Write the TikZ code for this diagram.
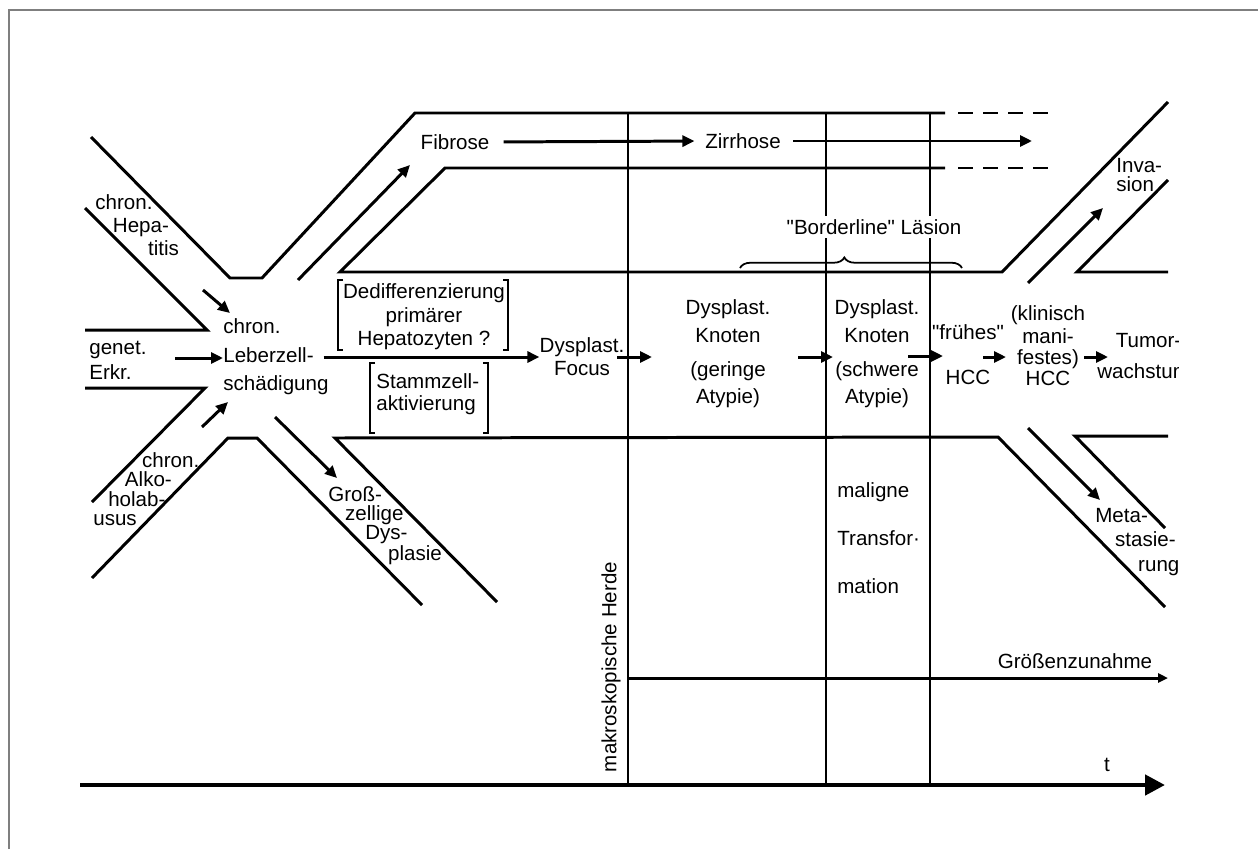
\documentclass[tikz,border=0pt]{standalone}
\usepackage{fontspec}
\setmainfont{Liberation Sans}
\usetikzlibrary{arrows.meta,positioning,decorations.pathreplacing}
\definecolor{rahmen}{HTML}{7F7F7F}

\begin{document}
\begin{tikzpicture}[x=0.02cm,y=-0.02cm,
  wand/.style={line width=1.7pt,line join=miter},
  gitter/.style={line width=1.2pt},
  klammer/.style={line width=1pt},
  pfeil/.style={line width=1.7pt,-{Triangle[length=2.4mm,width=2.2mm]}},
  zeile/.style={font=\fontsize{11.7}{#1}\selectfont,inner sep=0pt}]
\useasboundingbox (0,0) rectangle (1258,849);
\fill[white] (0,0) rectangle (1258,849);
\draw[rahmen,line width=1.2pt] (9,849) -- (9,10) -- (1258,10);

\draw[wand] (91,137) -- (230,278) -- (262,278) -- (415,113) -- (945,113);
\draw[wand,dash pattern=on 3mm off 2mm] (958,113) -- (1052,113);
\draw[wand] (85,208) -- (207,330) -- (85,330);
\draw[wand] (85,388) -- (205,388) -- (92,502);
\draw[wand] (92,578) -- (228,438) -- (257,438) -- (422,605);
\draw[wand] (945,168) -- (445,168) -- (340,272) -- (1002,272) -- (1168,102);
\draw[wand,dash pattern=on 3mm off 2mm] (958,168) -- (1052,168);
\draw[wand] (497,602) -- (335,438) -- (998,437) -- (1165,607);
\draw[wand] (1168,180) -- (1077,272) -- (1168,272);
\draw[wand] (1168,436) -- (1075,436) -- (1165,528);

\draw[gitter] (628,113) -- (628,785);
\draw[gitter] (826,113) -- (826,785);
\draw[gitter] (930,113) -- (930,785);

\draw[klammer] (343,280) -- (338,280) -- (338,350) -- (343,350);
\draw[klammer] (503,280) -- (508,280) -- (508,350) -- (503,350);
\draw[klammer] (375,363) -- (370,363) -- (370,433) -- (375,433);
\draw[klammer] (483,363) -- (488,363) -- (488,433) -- (483,433);

\node[zeile=13pt,anchor=west,align=left] (hep) at (95,225) {chron.\\\hspace*{10pt}Hepa-\\\hspace*{30pt}titis};
\node[zeile=14.2pt,anchor=west,align=left] (genet) at (89,360) {genet.\\Erkr.};
\node[zeile=11pt,anchor=west,align=left] (alko) at (93,489) {\hspace*{27.8pt}chron.\\\hspace*{18pt}Alko-\\\hspace*{8.5pt}holab-\\usus};
\node[zeile=16.2pt,anchor=west,align=left] (leber) at (223,357) {chron.\\Leberzell-\\schädigung};
\node[zeile=13.3pt,align=center] (dedif) at (424,317) {Dedifferenzierung\\primärer\\Hepatozyten ?};
\node[zeile=12.5pt,anchor=west,align=left] (stamm) at (376,394) {Stammzell-\\aktivierung};
\node[zeile=13pt,align=center] (focus) at (582,357) {Dysplast.\\Focus};
\node[zeile=15.5pt,align=center] (knoten1) at (728,354) {Dysplast.\\Knoten\\[4pt](geringe\\Atypie)};
\node[zeile=15.5pt,align=center] (knoten2) at (877,354) {Dysplast.\\Knoten\\[4pt](schwere\\Atypie)};
\node[zeile=25.5pt,align=center] (fruehes) at (968,355) {\textquotedbl frühes\textquotedbl\\HCC};
\node[zeile=12pt,align=center] (klinisch) at (1048,346) {(klinisch\\[1pt]mani-\\festes)\\HCC};
\begin{scope}
\clip (0,0) rectangle (1178,849);
\node[zeile=18pt,anchor=west,align=left] (tumor) at (1097,356) {\hspace*{10.5pt}Tumor-\\wachstum};
\end{scope}
\node[zeile=27.2pt,anchor=west,align=left] (maligne) at (837,538) {maligne\\Transfor·\\mation};
\node[zeile=13.9pt,anchor=west,align=left] (meta) at (1095,542) {Meta-\\\hspace*{11.3pt}stasie-\\\hspace*{24.4pt}rung};
\node[zeile=10.8pt,anchor=west,align=left] (gross) at (328,526) {Groß-\\\hspace*{9.6pt}zellige\\\hspace*{21pt}Dys-\\\hspace*{34pt}plasie};
\node[zeile=11.3pt,anchor=west,align=left] (invasion) at (1116,175) {Inva-\\sion};
\node[zeile=13pt] (fibrose) at (455,142) {Fibrose};
\node[zeile=13pt] (zirrhose) at (743,141) {Zirrhose};
\node[zeile=13pt,fill=white,inner sep=2pt] (border) at (874,227) {\textquotedbl Borderline\textquotedbl{} Läsion};
\node[zeile=13pt] (groesse) at (1075,661) {Größenzunahme};
\node[zeile=13pt] (t) at (1107,765) {t};
\node[zeile=13pt,rotate=90] (makro) at (611,667) {makroskopische Herde};

\draw[line width=1pt,decorate,decoration={brace,amplitude=6pt,aspect=0.47}] (740,268) -- (962,268);

\coordinate (hepA) at (203,290);
\coordinate (hepB) at (230,313);
\coordinate (genA) at (175,358);
\coordinate (alkA) at (202,427);
\coordinate (alkB) at (228,402);
\coordinate (fibA) at (298,280);
\coordinate (fibB) at (410,165);
\coordinate (groA) at (275,417);
\coordinate (groB) at (337,478);
\coordinate (focA) at (617,357);
\coordinate (focB) at (652,357);
\coordinate (kn1A) at (798,357);
\coordinate (kn1B) at (833,357);
\coordinate (kn2A) at (908,356);
\coordinate (kn2B) at (943,356);
\coordinate (fruA) at (983,357);
\coordinate (fruB) at (1006,357);
\coordinate (kliA) at (1084,357);
\coordinate (kliB) at (1108,357);
\coordinate (invA) at (1028,283);
\coordinate (invB) at (1103,208);
\coordinate (metA) at (1028,428);
\coordinate (metB) at (1100,500);
\coordinate (zirB) at (1032,141);
\coordinate (gesA) at (628,678);
\coordinate (gesB) at (1168,678);
\coordinate (achA) at (80,785);
\coordinate (achB) at (1165,785);

\draw[pfeil] (hepA) -- (hepB);
\draw[pfeil] (genA) -- (genA -| leber.west);
\draw[pfeil] (alkA) -- (alkB);
\draw[pfeil] (fibA) -- (fibB);
\draw[pfeil] (groA) -- (groB);
\draw[pfeil] ([xshift=-3pt]leber.east) -- (focus.west);
\draw[pfeil] (focA) -- (focB);
\draw[pfeil] (kn1A) -- (kn1B);
\draw[pfeil] (kn2A) -- (kn2B);
\draw[pfeil] (fruA) -- (fruB);
\draw[pfeil] (kliA) -- (kliB);
\draw[pfeil] (invA) -- (invB);
\draw[pfeil] (metA) -- (metB);
\draw[pfeil,shorten <=8pt,shorten >=6pt] (fibrose.east) -- (zirrhose.west);
\draw[pfeil,shorten <=7pt] (zirrhose.east) -- (zirB);
\draw[line width=1.7pt,-{Triangle[length=2mm,width=1.8mm]}] (gesA) -- (gesB);
\draw[line width=2.6pt,-{Triangle[length=4mm,width=4mm]}] (achA) -- (achB);
\end{tikzpicture}
\end{document}
